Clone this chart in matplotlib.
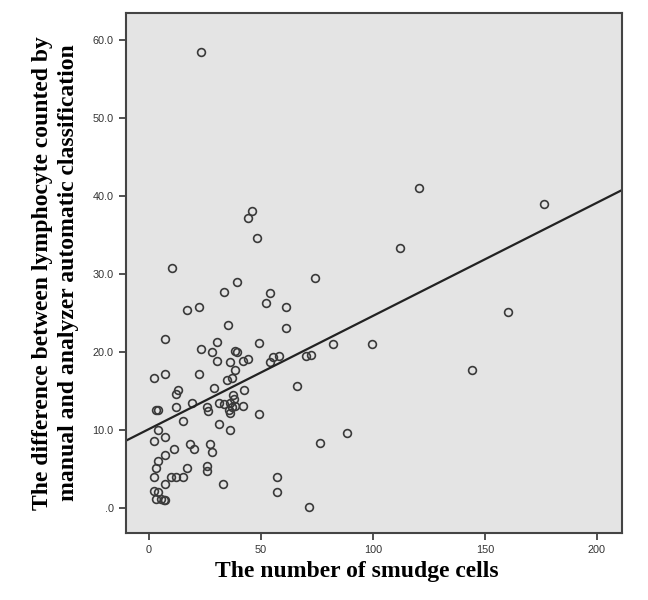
import matplotlib
matplotlib.use("Agg")
import matplotlib.pyplot as plt

# number of smudge cells (x) vs. lymphocyte count difference (y)
smudge = [23.0, 46.2, 44.0, 48.3, 10.2, 120.4, 176.5, 112.3, 74.3, 39.3,
          33.3, 54.2, 52.2, 61.2, 17.0, 22.1, 160.3, 35.2, 61.2, 7.1,
          30.2, 49.2, 82.2, 99.4, 23.1, 28.0, 38.4, 39.1, 30.3, 36.2,
          42.0, 44.3, 54.2, 55.2, 58.1, 70.0, 72.5, 38.2, 144.2, 7.1,
          2.0, 22.2, 34.9, 37.1, 66.2, 12.9, 12.1, 29.0, 42.3, 37.4,
          38.0, 3.3, 4.2, 12.1, 19.2, 26.0, 26.3, 31.2, 33.3, 35.6,
          36.3, 37.0, 38.4, 36.2, 42.1, 49.2, 15.1, 31.1, 36.0, 4.2,
          2.0, 7.2, 11.1, 18.1, 20.2, 27.1, 28.2, 88.3, 76.5, 7.2,
          4.1, 3.0, 2.0, 17.1, 26.1, 26.1, 10.0, 12.0, 15.2, 7.1,
          33.2, 57.3, 57.3, 2.0, 4.1, 3.0, 5.5, 6.5, 7.3, 71.3]
difference = [58.4, 38.0, 37.2, 34.6, 30.8, 41.0, 39.0, 33.3, 29.5, 28.9,
              27.7, 27.6, 26.3, 25.7, 25.4, 25.7, 25.1, 23.4, 23.0, 21.6,
              21.3, 21.1, 21.0, 21.0, 20.3, 20.0, 20.1, 20.0, 18.8, 18.7,
              18.8, 19.1, 18.7, 19.3, 19.5, 19.4, 19.6, 17.7, 17.7, 17.2,
              16.6, 17.2, 16.4, 16.6, 15.6, 15.1, 14.6, 15.3, 15.1, 14.4,
              14.0, 12.6, 12.6, 12.9, 13.5, 12.9, 12.4, 13.4, 13.3, 12.6,
              13.4, 12.9, 13.1, 12.1, 13.1, 12.0, 11.1, 10.8, 10.0, 10.0,
              8.6, 9.1, 7.5, 8.2, 7.5, 8.2, 7.2, 9.6, 8.3, 6.8,
              6.0, 5.1, 4.0, 5.1, 5.4, 4.7, 4.0, 4.0, 4.0, 3.1,
              3.0, 3.9, 2.0, 2.1, 2.0, 1.1, 1.1, 1.0, 1.0, 0.1]

# fit line
fit_intercept = 10.1
fit_slope = 0.145

x_ticks = [0, 50, 100, 150, 200]
x_ticklabels = ["0", "50", "100", "150", "200"]
y_ticks = [0, 10, 20, 30, 40, 50, 60]
y_ticklabels = [".0", "10.0", "20.0", "30.0", "40.0", "50.0", "60.0"]

fig = plt.figure(figsize=(6.48, 6.00), dpi=100)
ax = fig.add_axes([0.1937, 0.112, 0.766, 0.866])
ax.set_facecolor("#e4e4e4")

xmin, xmax = -10.5, 211.2
ax.set_xlim(xmin, xmax)
ax.set_ylim(-3.2, 63.4)

ax.plot(smudge, difference, linestyle="none", marker="o", markersize=5.6,
        markerfacecolor="none", markeredgecolor="#3a3a3a", markeredgewidth=1.2)

ax.plot([xmin, xmax], [fit_intercept + fit_slope * xmin, fit_intercept + fit_slope * xmax],
        color="#222222", linewidth=1.6)

ax.set_xticks(x_ticks)
ax.set_xticklabels(x_ticklabels)
ax.set_yticks(y_ticks)
ax.set_yticklabels(y_ticklabels)
ax.tick_params(direction="out", length=5, width=1.2, color="#333333",
               labelsize=7.8, labelcolor="#333333")
for lab in ax.get_xticklabels() + ax.get_yticklabels():
    lab.set_family("Liberation Sans")

for s in ax.spines.values():
    s.set_color("#444444")
    s.set_linewidth(1.5)

ax.set_xlabel("The number of smudge cells", family="Liberation Serif",
              fontweight="bold", fontsize=17, va="center")
ax.xaxis.set_label_coords(0.466, -0.075)
ax.set_ylabel("The difference between lymphocyte counted by\nmanual and analyzer automatic classification",
              family="Liberation Serif", fontweight="bold", fontsize=17,
              linespacing=1.3, va="center", ha="center")
ax.yaxis.set_label_coords(-0.141, 0.5)

plt.savefig("out.png", dpi=100)
